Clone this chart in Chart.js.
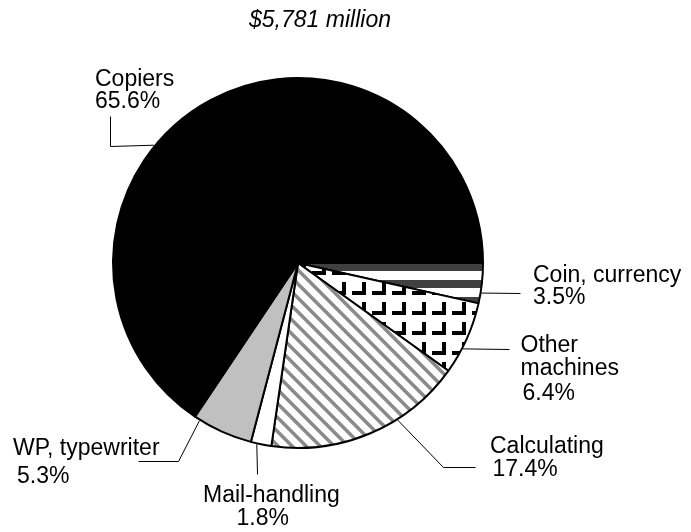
<!DOCTYPE html>
<html lang="en">
<head>
<meta charset="UTF-8" />
<title>Office machines - sales mix</title>
<script src="https://cdn.jsdelivr.net/npm/chart.js"></script>
<style>
  body { margin: 0; background: #fff; }
  #wrap { width: 691px; height: 532px; }
</style>
</head>
<body>
<div id="wrap"><canvas id="pieChart" width="691" height="532"></canvas></div>
<script>
  const totalLabel = '$5,781 million';
  // slices listed clockwise, starting at 3 o'clock
  const categories = ['Coin, currency', 'Other machines', 'Calculating', 'Mail-handling', 'WP, typewriter', 'Copiers'];
  const shares = [3.5, 6.4, 17.4, 1.8, 5.3, 65.6];

  const FONT = '"Liberation Sans", Arial, sans-serif';

  // small repeating tiles for the hatched slices
  function makeTile(w, h, paint) {
    const c = document.createElement('canvas');
    c.width = w; c.height = h;
    const g = c.getContext('2d');
    g.fillStyle = '#fff';
    g.fillRect(0, 0, w, h);
    paint(g, w, h);
    return g.createPattern(c, 'repeat');
  }

  // draw rect with wrap-around so it tiles seamlessly
  function wrapRect(g, w, h, x, y, rw, rh) {
    for (const dx of [-w, 0, w]) for (const dy of [-h, 0, h]) g.fillRect(x + dx, y + dy, rw, rh);
  }

  const coinFill = makeTile(4, 17, (g, w, h) => {
    g.fillStyle = '#404040';
    wrapRect(g, w, h, 0, 8, w, 8);
  });

  const otherFill = makeTile(20, 20, (g, w, h) => {
    g.fillStyle = '#000';
    wrapRect(g, w, h, 2, 2, 4, 13);   // upright stroke
    wrapRect(g, w, h, -8, 11, 14, 4); // foot stroke
  });

  const calcFill = makeTile(14, 14, (g, w, h) => {
    g.strokeStyle = '#8a8a8a';
    g.lineWidth = 3.5;
    for (const dx of [-w, 0, w]) {
      g.beginPath();
      g.moveTo(dx - 2, -2);
      g.lineTo(dx + w + 2, h + 2);
      g.stroke();
    }
  });

  const fills = [coinFill, otherFill, calcFill, '#ffffff', '#c0c0c0', '#000000'];

  // callout placement: text lines, percent line, anchor angle on the rim, leader bends
  const callouts = [
    { lines: ['Coin, currency'], x: 533, y: 282, px: 533, py: 304, angle: 9.3, path: [[520, 293]] },
    { lines: ['Other', 'machines'], x: 520.5, y: 351.5, px: 522.5, py: 399.5, angle: 27.5, path: [[509, 349]] },
    { lines: ['Calculating'], x: 490, y: 453, px: 492.5, py: 475.5, angle: 57.6, path: [[443, 467], [475, 467]] },
    { lines: ['Mail-handling'], x: 203, y: 501.5, px: 236.5, py: 525, angle: 102.8, path: [[257, 474]] },
    { lines: ['WP, typewriter'], x: 13, y: 455, px: 17, py: 482.5, angle: 122, path: [[178, 461], [138, 461]] },
    { lines: ['Copiers'], x: 95, y: 85.5, px: 95, py: 108, angle: 219.3, path: [[110, 146], [110, 116]] }
  ];

  const calloutPlugin = {
    id: 'callouts',
    afterDraw(chart) {
      const ctx = chart.ctx;
      const arc = chart.getDatasetMeta(0).data[0];
      const cx = arc.x, cy = arc.y, r = arc.outerRadius;
      ctx.save();

      ctx.fillStyle = '#000';
      ctx.textBaseline = 'alphabetic';
      ctx.font = 'italic 23px ' + FONT;
      ctx.textAlign = 'center';
      ctx.fillText(totalLabel, 320, 27);

      ctx.textAlign = 'left';
      ctx.font = '23px ' + FONT;
      ctx.strokeStyle = '#000';
      ctx.lineWidth = 1;
      callouts.forEach((c, i) => {
        c.lines.forEach((t, k) => ctx.fillText(t, c.x, c.y + k * 23.5));
        ctx.fillText(shares[i].toFixed(1) + '%', c.px, c.py);

        const a = c.angle * Math.PI / 180;
        ctx.beginPath();
        ctx.moveTo(cx + (r + 1) * Math.cos(a), cy + (r + 1) * Math.sin(a));
        c.path.forEach(p => ctx.lineTo(p[0] + 0.5, p[1] + 0.5));
        ctx.stroke();
      });
      ctx.restore();
    }
  };

  new Chart(document.getElementById('pieChart'), {
    type: 'pie',
    data: {
      labels: categories,
      datasets: [{
        data: shares,
        backgroundColor: fills,
        borderColor: '#000',
        borderWidth: 2
      }]
    },
    options: {
      responsive: false,
      animation: false,
      rotation: 90,
      radius: 185,
      layout: { padding: { left: 0, right: 95, top: 0, bottom: 6 } },
      plugins: {
        legend: { display: false },
        tooltip: { enabled: false }
      }
    },
    plugins: [calloutPlugin]
  });
</script>
</body>
</html>
